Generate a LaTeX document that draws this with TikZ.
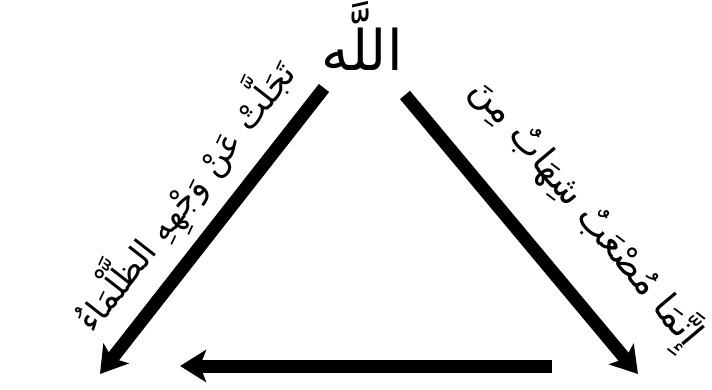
\documentclass[tikz,border=0pt]{standalone}
\usepackage{fontspec}
\TeXXeTstate=1
\newfontfamily\arabicfont[Script=Arabic]{DejaVu Sans}
\usetikzlibrary{arrows.meta}
\begin{document}
\begin{tikzpicture}[x=1pt,y=-1pt,
  bigarrow/.style={line width=13pt, -{Stealth[length=26pt,width=32pt,inset=6pt]}},
  artext/.style={inner sep=0pt, font=\arabicfont\fontsize{34}{40}\selectfont}]
\useasboundingbox[fill=white] (0,0) rectangle (712,390);
\coordinate (lt) at (324,88);
\coordinate (lb) at (100,374);
\coordinate (rt) at (405,95);
\coordinate (rb) at (638,374);
\coordinate (br) at (552,366);
\coordinate (bl) at (180,366);
\draw[bigarrow] (lt) -- (lb);
\draw[bigarrow] (rt) -- (rb);
\draw[bigarrow] (br) -- (bl);
\node[artext, font=\arabicfont\fontsize{56}{62}\selectfont] (allah) at (362,36) {\beginR اللَّه\endR};
\node[artext, rotate=52] (left) at (185,196) {\beginR تَجَلَّتْ عَنْ وَجْهِهِ الظَّلْمَاءُ\endR};
\node[artext, rotate=-50, font=\arabicfont\fontsize{37}{42}\selectfont] (right) at (585,213) {\beginR إِنَّمَا مُصْعَبٌ شِهَابٌ مِنَ\endR};
\end{tikzpicture}
\end{document}
